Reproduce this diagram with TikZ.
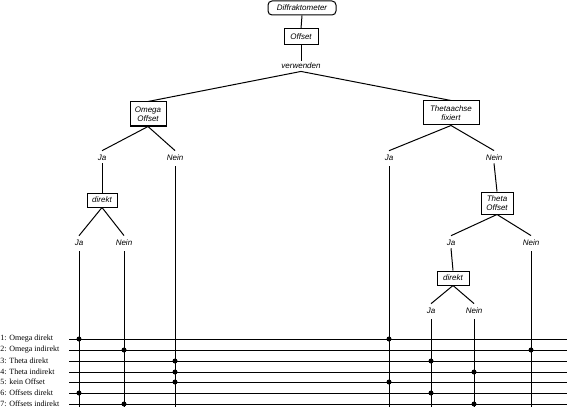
\documentclass[tikz,border=0pt]{standalone}
\usepackage{fontspec}
\setsansfont{Liberation Sans}
\newfontfamily\legendfont{Liberation Serif}
\begin{document}
\begin{tikzpicture}[x=1pt,y=-1pt,line width=1pt,
  tlabel/.style={font=\sffamily\itshape\fontsize{8}{9}\selectfont,inner sep=2pt},
  tbox/.style={tlabel,draw,align=center,inner sep=0pt},
  leg/.style={font=\legendfont\fontsize{8}{9}\selectfont,anchor=west,inner sep=0pt},
  dot/.style={circle,fill=black,inner sep=0pt,minimum size=5pt}]
\useasboundingbox (0,0) rectangle (567,409);
% tree
\node[tbox,rounded corners=4pt,minimum width=68pt,minimum height=14pt] (D) at (302,8) {Diffraktometer};
\node[tbox,minimum width=34pt,minimum height=16pt] (O) at (301,37) {Offset};
\node[tlabel] (V) at (301,66) {verwenden};
\node[tbox,minimum width=36pt,minimum height=24pt] (OmO) at (148,114) {Omega\\Offset};
\node[tbox,minimum width=56pt,minimum height=24pt] (TA) at (451,113) {Thetaachse\\fixiert};
\node[tlabel] (oja) at (102,158) {Ja};
\node[tlabel] (onein) at (175,158) {Nein};
\node[tlabel] (tja) at (389,158) {Ja};
\node[tlabel] (tnein) at (494,158) {Nein};
\node[tbox,minimum width=30pt,minimum height=14pt] (dir1) at (102,200) {direkt};
\node[tlabel] (dja1) at (79,243) {Ja};
\node[tlabel] (dnein1) at (124,243) {Nein};
\node[tbox,minimum width=32pt,minimum height=22pt] (TO) at (497,203) {Theta\\Offset};
\node[tlabel] (toja) at (451,243) {Ja};
\node[tlabel] (tonein) at (531,243) {Nein};
\node[tbox,minimum width=32pt,minimum height=14pt] (dir2) at (453,278) {direkt};
\node[tlabel] (dja2) at (431,311) {Ja};
\node[tlabel] (dnein2) at (474,311) {Nein};
\draw (D.south) -- (O.north);
\draw (O.south) -- (V.north);
\draw (V.south) -- (OmO.north);
\draw (V.south) -- (TA.north);
\draw (OmO.south) -- ([yshift=2pt]oja.north);
\draw (OmO.south) -- ([yshift=2pt]onein.north);
\draw (TA.south) -- ([yshift=2pt]tja.north);
\draw (TA.south) -- ([yshift=2pt]tnein.north);
\draw (oja.south) -- (dir1.north);
\draw (dir1.south) -- ([yshift=2pt]dja1.north);
\draw (dir1.south) -- ([yshift=2pt]dnein1.north);
\draw (tnein.south) -- (TO.north);
\draw (TO.south) -- ([yshift=2pt]toja.north);
\draw (TO.south) -- ([yshift=2pt]tonein.north);
\draw (toja.south) -- (dir2.north);
\draw (dir2.south) -- ([yshift=2pt]dja2.north);
\draw (dir2.south) -- ([yshift=2pt]dnein2.north);
% legend rows
\coordinate (bot) at (0,407);
\foreach \i/\y/\t in {1/339/{1: Omega direkt},2/350/{2: Omega indirekt},3/361/{3: Theta direkt},4/372/{4: Theta indirekt},5/382/{5: kein Offset},6/393/{6: Offsets direkt},7/404/{7: Offsets indirekt}}{
  \node[leg] (L\i) at (0,\y) {\t};
  \coordinate (a\i) at (69,\y);
  \coordinate (b\i) at (567,\y);
  \draw (a\i) -- (b\i);
}
% verticals
\foreach \n in {dja1,dnein1,onein,tja,tonein,dja2,dnein2}{
  \draw ([yshift=-3pt]\n.south) -- (\n.south |- bot);
}
% dots
\foreach \n/\r in {dja1/1,tja/1,dnein1/2,tonein/2,onein/3,dja2/3,onein/4,dnein2/4,onein/5,tja/5,dja1/6,dja2/6,dnein1/7,dnein2/7}{
  \node[dot] at (\n |- a\r) {};
}
\end{tikzpicture}
\end{document}
